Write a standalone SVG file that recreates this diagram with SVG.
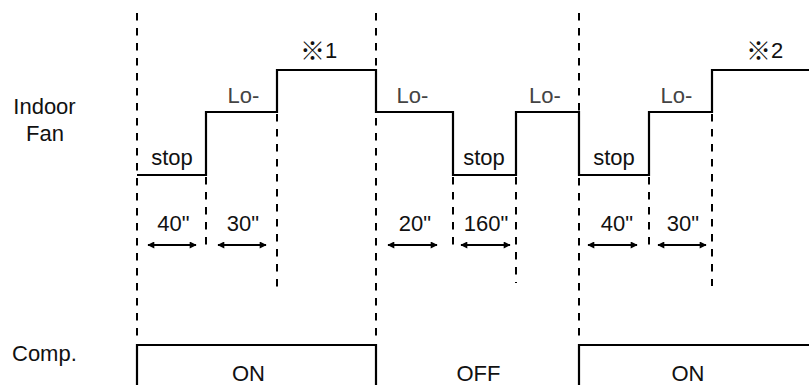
<svg xmlns="http://www.w3.org/2000/svg" width="809" height="385" viewBox="0 0 809 385">
<style>
.dash{stroke:#000;stroke-width:2;stroke-dasharray:7.5 7.5;fill:none}
.sig{stroke:#000;stroke-width:2.2;fill:none}
.arr{stroke:#000;stroke-width:2;fill:none;marker-start:url(#ah);marker-end:url(#ah)}
text{font-family:"Liberation Sans","Noto Sans CJK JP",sans-serif;font-size:22px;fill:#111}
.c{text-anchor:middle}
.lo{fill:#444}
.kome{font-family:"Noto Sans CJK JP",sans-serif;font-size:25px;font-weight:bold}
</style>
<defs>
<marker id="ah" viewBox="0 0 10 10" refX="9" refY="5" markerWidth="8" markerHeight="7" markerUnits="userSpaceOnUse" orient="auto-start-reverse">
<path d="M0,0 L10,5 L0,10 z" fill="#000"/>
</marker>
</defs>
<rect width="809" height="385" fill="#fff"/>
<g id="connectors">
<line class="dash" x1="137" y1="13" x2="137" y2="337"/>
<line class="dash" x1="376" y1="13" x2="376" y2="337"/>
<line class="dash" x1="579" y1="13" x2="579" y2="337"/>
<line class="dash" x1="206" y1="177" x2="206" y2="249"/>
<line class="dash" x1="277" y1="114" x2="277" y2="289"/>
<line class="dash" x1="453" y1="177" x2="453" y2="249"/>
<line class="dash" x1="516" y1="177" x2="516" y2="283"/>
<line class="dash" x1="649" y1="177" x2="649" y2="249"/>
<line class="dash" x1="712" y1="114" x2="712" y2="286"/>
<line class="arr" x1="148" y1="245" x2="196" y2="245"/>
<line class="arr" x1="218" y1="245" x2="266" y2="245"/>
<line class="arr" x1="388" y1="245" x2="437" y2="245"/>
<line class="arr" x1="461" y1="245" x2="510" y2="245"/>
<line class="arr" x1="588" y1="245" x2="637" y2="245"/>
<line class="arr" x1="658" y1="245" x2="706" y2="245"/>
</g>
<g id="fan-signal">
<path class="sig" d="M137,175 H206 V112 H277 V70 H376 V112 H453 V175 H516 V112 H579 V175 H649 V112 H712 V70 H809"/>
</g>
<g id="comp-signal">
<path class="sig" stroke-width="2.5" d="M137,387 V345 H376 V387"/>
<path class="sig" stroke-width="2.5" d="M579,387 V345 H812"/>
</g>
<g id="labels">
<text class="c" x="44.5" y="114">Indoor</text>
<text class="c" x="45" y="141">Fan</text>
<text x="12" y="361">Comp.</text>
</g>
<g id="levels">
<text class="c" x="172" y="165">stop</text>
<text class="c" x="484" y="165">stop</text>
<text class="c" x="614" y="165">stop</text>
<text class="c lo" x="243.5" y="103">Lo-</text>
<text class="c lo" x="412.5" y="103">Lo-</text>
<text class="c lo" x="545" y="103">Lo-</text>
<text class="c lo" x="676.5" y="103">Lo-</text>
<text y="58"><tspan class="kome" x="300" y="60">※</tspan><tspan x="325" y="58">1</tspan></text>
<text y="58"><tspan class="kome" x="746" y="60">※</tspan><tspan x="771" y="58">2</tspan></text>
</g>
<g id="durations">
<text class="c" x="173.5" y="231">40"</text>
<text class="c" x="243" y="231">30"</text>
<text class="c" x="415" y="231">20"</text>
<text class="c" x="486" y="231">160"</text>
<text class="c" x="617" y="231">40"</text>
<text class="c" x="683" y="231">30"</text>
</g>
<g id="comp-states">
<text class="c" x="248.5" y="381">ON</text>
<text class="c" x="478.5" y="381">OFF</text>
<text class="c" x="688" y="381">ON</text>
</g>
</svg>
